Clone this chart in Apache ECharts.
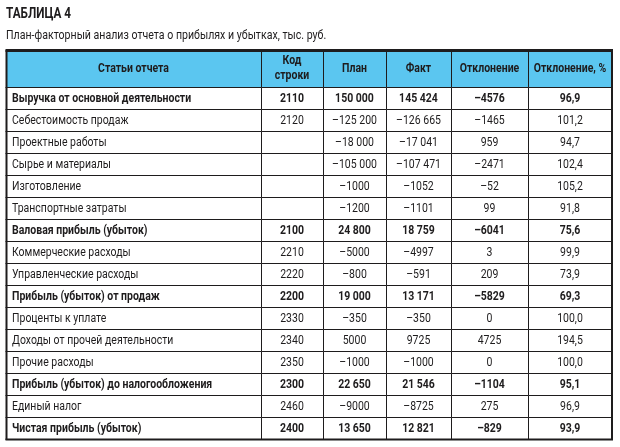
<!DOCTYPE html>
<html>
<head>
<meta charset="utf-8">
<script src="https://cdn.jsdelivr.net/npm/echarts@6/dist/echarts.min.js"></script>
<style>
  html, body { margin: 0; padding: 0; background: #fff; }
  #main { width: 620px; height: 447px; }
</style>
</head>
<body>
<div id="main"></div>
<script>
  // строки таблицы
  var items = [
    'Выручка от основной деятельности', 'Себестоимость продаж', 'Проектные работы',
    'Сырье и материалы', 'Изготовление', 'Транспортные затраты', 'Валовая прибыль (убыток)',
    'Коммерческие расходы', 'Управленческие расходы', 'Прибыль (убыток) от продаж',
    'Проценты к уплате', 'Доходы от прочей деятельности', 'Прочие расходы',
    'Прибыль (убыток) до налогообложения', 'Единый налог', 'Чистая прибыль (убыток)'
  ];
  var codes = ['2110', '2120', '', '', '', '', '2100', '2210', '2220', '2200', '2330', '2340', '2350', '2300', '2460', '2400'];
  var plan = [150000, -125200, -18000, -105000, -1000, -1200, 24800, -5000, -800, 19000, -350, 5000, -1000, 22650, -9000, 13650];
  var fact = [145424, -126665, -17041, -107471, -1052, -1101, 18759, -4997, -591, 13171, -350, 9725, -1000, 21546, -8725, 12821];
  var diff = [-4576, -1465, 959, -2471, -52, 99, -6041, 3, 209, -5829, 0, 4725, 0, -1104, 275, -829];
  var diffPct = [96.9, 101.2, 94.7, 102.4, 105.2, 91.8, 75.6, 99.9, 73.9, 69.3, 100.0, 194.5, 100.0, 95.1, 96.9, 93.9];
  var boldRows = [0, 6, 9, 13, 15];
  var headers = ['Статьи отчета', 'Код\nстроки', 'План', 'Факт', 'Отклонение', 'Отклонение, %'];

  // границы колонок (в единицах оси x)
  var colEdges = [0, 255, 317, 380, 445, 522, 606];
  var FONT = "Roboto, 'Noto Sans', sans-serif";
  var SX = 0.84; // сжатие шрифта по горизонтали
  var LINE = '#1e1c1d';

  function fmtNum(v) {
    var s = String(Math.abs(v));
    if (s.length > 4) s = s.replace(/\B(?=(\d{3})+(?!\d))/g, ' ');
    return (v < 0 ? '–' : '') + s;
  }
  function fmtPct(v) {
    return v.toFixed(1).replace('.', ',');
  }
  // чёткие линии в 1px
  function px(v) { return Math.round(v) + 0.5; }

  function cellText(str, x, y, align, bold) {
    return {
      type: 'text', x: x, y: y, scaleX: SX,
      style: {
        text: str, x: 0, y: 0, align: align, verticalAlign: 'middle',
        font: (bold ? 'bold ' : '') + '12.5px ' + FONT, fill: LINE, lineHeight: 15
      }
    };
  }

  function cellRect(x0, x1, top, h, fill) {
    return {
      type: 'rect',
      shape: { x: px(x0), y: px(top), width: Math.round(x1) - Math.round(x0), height: Math.round(h) },
      style: { fill: fill, stroke: LINE, lineWidth: 1 }
    };
  }

  function frame(children, xl, xr, top, h, topW, bottomW) {
    xl = Math.round(xl); xr = Math.round(xr);
    children.push({ type: 'line', shape: { x1: xl + 0.5, y1: top, x2: xl + 0.5, y2: top + h + 1 }, style: { stroke: LINE, lineWidth: 2 } });
    children.push({ type: 'line', shape: { x1: xr, y1: top, x2: xr, y2: top + h + 1 }, style: { stroke: LINE, lineWidth: 2 } });
    if (topW) {
      children.push({ type: 'line', shape: { x1: xl - 0.5, y1: top + 0.5, x2: xr + 1, y2: top + 0.5 }, style: { stroke: LINE, lineWidth: topW } });
    }
    if (bottomW) {
      children.push({ type: 'line', shape: { x1: xl - 0.5, y1: top + h + 0.5, x2: xr + 1, y2: top + h + 0.5 }, style: { stroke: LINE, lineWidth: bottomW } });
    }
  }

  function renderHeader(params, api) {
    var h = api.size([0, 1])[1];
    var yc = api.coord([0, 0])[1];
    var top = yc - h / 2;
    var children = [];
    for (var c = 0; c < headers.length; c++) {
      var x0 = api.coord([colEdges[c], 0])[0];
      var x1 = api.coord([colEdges[c + 1], 0])[0];
      children.push(cellRect(x0, x1, top, h, '#5bc6f0'));
      children.push(cellText(headers[c], (x0 + x1) / 2, yc, 'center', true));
    }
    frame(children, api.coord([colEdges[0], 0])[0], api.coord([colEdges[colEdges.length - 1], 0])[0], Math.round(top), Math.round(h), 3, 0);
    return { type: 'group', children: children };
  }

  function renderRow(params, api) {
    var r = api.value(1);
    var bold = boldRows.indexOf(r) >= 0;
    var cells = [items[r], codes[r], fmtNum(plan[r]), fmtNum(fact[r]), fmtNum(diff[r]), fmtPct(diffPct[r])];
    var h = api.size([0, 1])[1];
    var yc = api.coord([0, r])[1];
    var top = yc - h / 2;
    var children = [];
    for (var c = 0; c < cells.length; c++) {
      var x0 = api.coord([colEdges[c], r])[0];
      var x1 = api.coord([colEdges[c + 1], r])[0];
      children.push(cellRect(x0, x1, top, h, '#fff'));
      children.push(cellText(cells[c], c === 0 ? x0 + 6 : (x0 + x1) / 2, yc + 0.5, c === 0 ? 'left' : 'center', bold));
    }
    frame(children, api.coord([colEdges[0], r])[0], api.coord([colEdges[colEdges.length - 1], r])[0],
      Math.round(top), Math.round(h), 0, r === items.length - 1 ? 2 : 0);
    return { type: 'group', children: children };
  }

  var chart = echarts.init(document.getElementById('main'));
  var option = {
    animation: false,
    graphic: [
      { type: 'text', x: 6, y: 14, scaleX: SX,
        style: { text: 'ТАБЛИЦА 4', x: 0, y: 0, verticalAlign: 'middle', font: 'bold 14px ' + FONT, fill: LINE } },
      { type: 'text', x: 6, y: 36, scaleX: 0.815,
        style: { text: 'План-факторный анализ отчета о прибылях и убытках, тыс. руб.', x: 0, y: 0,
          verticalAlign: 'middle', font: '13px ' + FONT, fill: LINE } }
    ],
    grid: [
      { left: 6, top: 50, width: 606, height: 37 },
      { left: 6, top: 87, width: 606, height: 352 }
    ],
    xAxis: [
      { gridIndex: 0, type: 'value', min: 0, max: colEdges[colEdges.length - 1], show: false },
      { gridIndex: 1, type: 'value', min: 0, max: colEdges[colEdges.length - 1], show: false }
    ],
    yAxis: [
      { gridIndex: 0, type: 'category', data: ['header'], show: false },
      { gridIndex: 1, type: 'category', data: items, inverse: true, show: false }
    ],
    series: [
      {
        type: 'custom', xAxisIndex: 0, yAxisIndex: 0,
        renderItem: renderHeader, encode: { x: 0, y: 1 },
        data: [[0, 0]]
      },
      {
        type: 'custom', xAxisIndex: 1, yAxisIndex: 1,
        renderItem: renderRow, encode: { x: 0, y: 1 },
        data: items.map(function (name, i) { return [0, i]; })
      }
    ]
  };
  chart.setOption(option);
</script>
</body>
</html>
